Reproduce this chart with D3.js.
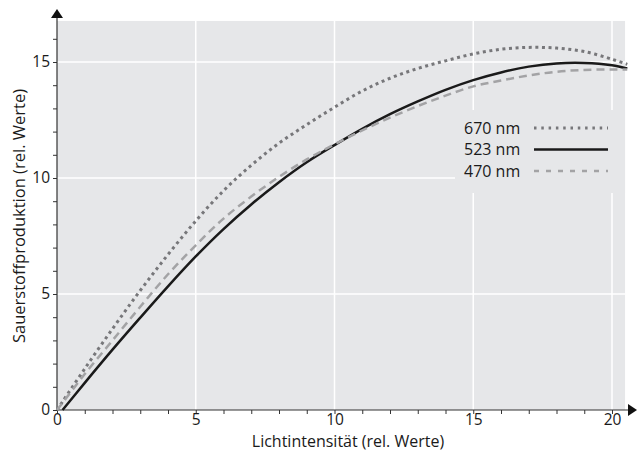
<!DOCTYPE html>
<html>
<head>
<meta charset="utf-8">
<script src="https://cdn.jsdelivr.net/npm/d3@7"></script>
<style>
	body { margin: 0; background: #fff; }
	text { font-family: "Open Sans", "Noto Sans", sans-serif; fill: #1a1a1a; }
</style>
</head>
<body>
<div id="chart"></div>
<script>
// Lichtintensität (rel. Werte)
var lightX = [0, 0.2, 1, 2, 3, 4, 5, 6, 7, 8, 9, 10, 11, 12, 13, 14, 15, 16, 17, 18, 19, 20, 20.55];
// Sauerstoffproduktion je Wellenlänge
var o2_670 = [0, 0.36, 1.78, 3.5, 5.15, 6.7, 8.15, 9.45, 10.55, 11.5, 12.3, 13.05, 13.75, 14.3, 14.72, 15.05, 15.35, 15.55, 15.63, 15.6, 15.45, 15.12, 14.9];
var o2_523 = [null, 0, 1.17, 2.6, 3.98, 5.33, 6.62, 7.8, 8.86, 9.82, 10.68, 11.42, 12.12, 12.75, 13.3, 13.8, 14.22, 14.55, 14.8, 14.94, 14.96, 14.86, 14.72];
var o2_470 = [0, 0.31, 1.55, 3.0, 4.45, 5.85, 7.1, 8.25, 9.2, 10.05, 10.8, 11.45, 12.05, 12.6, 13.1, 13.55, 13.95, 14.2, 14.42, 14.58, 14.66, 14.68, 14.68];

var legendLabels = ['670 nm', '523 nm', '470 nm'];
var xTicks = [0, 5, 10, 15, 20];
var yTicks = [0, 5, 10, 15];

var W = 638, H = 452;
var xEnd = 20.47, yEnd = 16.77;

var x = d3.scaleLinear().domain([0, 20]).range([57, 612]);
var y = d3.scaleLinear().domain([0, 15]).range([410, 62]);

var svg = d3.select('#chart').append('svg')
	.attr('width', W)
	.attr('height', H);

// hintergrund
svg.append('rect')
	.attr('x', x(0))
	.attr('y', y(yEnd))
	.attr('width', x(xEnd) - x(0))
	.attr('height', y(0) - y(yEnd))
	.style('fill', '#e6e7e9');

// gitter
svg.selectAll('line.vgrid').data(xTicks.slice(1))
	.enter().append('line')
	.attr('class', 'vgrid')
	.attr('x1', function(d) { return x(d); })
	.attr('x2', function(d) { return x(d); })
	.attr('y1', y(0))
	.attr('y2', y(yEnd))
	.style('stroke', '#fff')
	.style('stroke-width', 1.5);

svg.selectAll('line.hgrid').data(yTicks.slice(1))
	.enter().append('line')
	.attr('class', 'hgrid')
	.attr('x1', x(0))
	.attr('x2', x(xEnd))
	.attr('y1', function(d) { return y(d); })
	.attr('y2', function(d) { return y(d); })
	.style('stroke', '#fff')
	.style('stroke-width', 1.5);

// legende verdeckt das gitter
svg.append('rect')
	.attr('x', 455)
	.attr('y', 110)
	.attr('width', x(xEnd) - 455)
	.attr('height', 83)
	.style('fill', '#e6e7e9');

// achsen
var xaxis = d3.axisBottom(x)
	.tickValues(d3.range(0, 21))
	.tickSize(4)
	.tickPadding(0)
	.tickFormat(function(d) { return d % 5 === 0 ? d : ''; });
var yaxis = d3.axisLeft(y)
	.tickValues(d3.range(0, 17))
	.tickSize(4)
	.tickPadding(3)
	.tickFormat(function(d) { return d % 5 === 0 ? d : ''; });

var xg = svg.append('g').attr('transform', 'translate(0,' + y(0) + ')');
xaxis(xg);
var yg = svg.append('g').attr('transform', 'translate(' + x(0) + ',0)');
yaxis(yg);

[xg, yg].forEach(function(g) {
	g.select('.domain').remove();
	g.selectAll('line').style('stroke', '#333').style('stroke-width', 1);
	g.selectAll('text').style('font-size', '15.5px').style('fill', '#1a1a1a')
		.style('font-family', '"Open Sans", "Noto Sans", sans-serif');
});

svg.append('line')
	.attr('x1', x(0)).attr('x2', 630)
	.attr('y1', y(0)).attr('y2', y(0))
	.style('stroke', '#333').style('stroke-width', 1.2);
svg.append('line')
	.attr('x1', x(0)).attr('x2', x(0))
	.attr('y1', y(0)).attr('y2', 16)
	.style('stroke', '#333').style('stroke-width', 1.2);
svg.append('path')
	.attr('d', 'M628,' + (y(0) - 6) + 'L637,' + y(0) + 'L628,' + (y(0) + 6) + 'Z')
	.style('fill', '#111');
svg.append('path')
	.attr('d', 'M' + (x(0) - 6) + ',18L' + x(0) + ',9L' + (x(0) + 6) + ',18Z')
	.style('fill', '#111');

// kurven
var series = [
	{ values: o2_670, color: '#77777a', width: 3, dash: '3,3.6' },
	{ values: o2_523, color: '#1a1a1a', width: 2.5, dash: null },
	{ values: o2_470, color: '#a3a3a5', width: 2.5, dash: '8,5' }
];

series.forEach(function(s) {
	var line = d3.line()
		.defined(function(d) { return d != null; })
		.x(function(d, i) { return x(lightX[i]); })
		.y(function(d) { return y(d); })
		.curve(d3.curveCatmullRom);
	svg.append('path')
		.attr('d', line(s.values))
		.style('fill', 'none')
		.style('stroke', s.color)
		.style('stroke-width', s.width)
		.style('stroke-dasharray', s.dash);
});

// legende
legendLabels.forEach(function(lbl, i) {
	var ly = 128 + i * 21.5;
	svg.append('text')
		.attr('x', 464)
		.attr('y', ly)
		.attr('dy', '0.35em')
		.style('font-size', '16px')
		.text(lbl);
	svg.append('line')
		.attr('x1', 534).attr('x2', 608)
		.attr('y1', ly).attr('y2', ly)
		.style('stroke', series[i].color)
		.style('stroke-width', series[i].width)
		.style('stroke-dasharray', series[i].dash ? (i === 0 ? '2.5,4.8' : '5,7') : null);
});

// achsentitel
svg.append('text')
	.attr('x', 348)
	.attr('y', 447)
	.attr('text-anchor', 'middle')
	.style('font-size', '16px')
	.text('Lichtintensität (rel. Werte)');
svg.append('text')
	.attr('transform', 'translate(25,216) rotate(-90)')
	.attr('text-anchor', 'middle')
	.style('font-size', '16.5px')
	.text('Sauerstoffproduktion (rel. Werte)');
</script>
</body>
</html>
